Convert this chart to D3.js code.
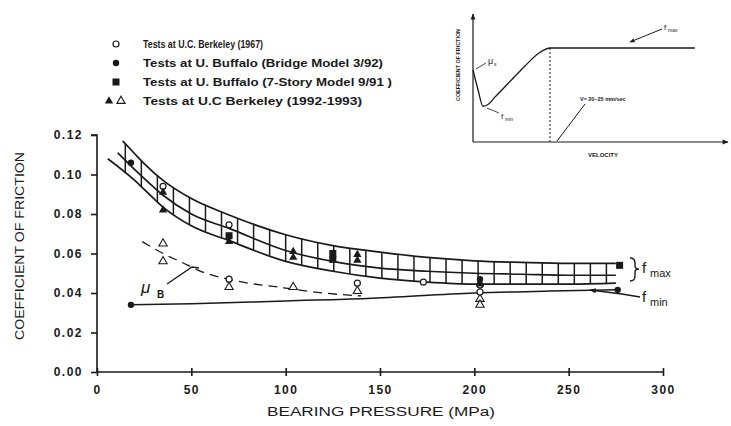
<!DOCTYPE html>
<html>
<head>
<meta charset="utf-8">
<script src="https://cdn.jsdelivr.net/npm/d3@7"></script>
<style>
  body { margin: 0; background: #fff; }
  svg { display: block; font-family: "Liberation Sans", Arial, sans-serif; }
</style>
</head>
<body>
<svg id="chart" width="731" height="426"></svg>
<script>
// ---- data ----
var xTicks = [0, 50, 100, 150, 200, 250, 300];
var yTicks = [0, 0.02, 0.04, 0.06, 0.08, 0.10, 0.12];

// f_max band: upper edge, middle line, lower edge
var upperP  = [13.6, 20, 25, 35, 50, 70, 100, 125, 150, 175, 200, 225, 250, 275];
var upperMu = [0.117, 0.1105, 0.1055, 0.097, 0.0878, 0.0795, 0.0695, 0.064, 0.0607, 0.058, 0.0563, 0.0555, 0.055, 0.055];
var midP    = [11, 20, 25, 35, 50, 70, 100, 125, 150, 175, 200, 225, 250, 275];
var midMu   = [0.111, 0.1025, 0.098, 0.0895, 0.080, 0.0727, 0.0615, 0.056, 0.0526, 0.051, 0.050, 0.0495, 0.049, 0.049];
var lowerP  = [5.7, 20, 25, 35, 50, 70, 100, 125, 150, 175, 200, 225, 250, 275];
var lowerMu = [0.108, 0.097, 0.0925, 0.0835, 0.0740, 0.0665, 0.056, 0.051, 0.0475, 0.0455, 0.0445, 0.0445, 0.0445, 0.045];

// f_min line and mu_B dashed curve
var fminP  = [18, 50, 100, 143, 200, 240, 276];
var fminMu = [0.034, 0.0345, 0.036, 0.0372, 0.040, 0.041, 0.0416];
var muBP   = [24, 35, 45, 55, 72, 100, 120, 140];
var muBMu  = [0.066, 0.060, 0.0555, 0.051, 0.0465, 0.0425, 0.040, 0.0385];

// test points [pressure, coefficient]
var berkeley67    = [[35, 0.094], [70, 0.0745], [70, 0.047], [138, 0.045], [173, 0.0455], [203, 0.044], [203, 0.0405]];
var buffaloBridge = [[18, 0.106], [18, 0.034], [276, 0.0416], [203, 0.047]];
var buffalo7      = [[70, 0.069], [125, 0.060], [125, 0.057], [277, 0.054]];
var berkeley92    = [[35, 0.091], [35, 0.082], [70, 0.066], [104, 0.061], [104, 0.058], [138, 0.0595], [138, 0.0565], [203, 0.0445]];
var berkeley92o   = [[35, 0.065], [35, 0.056], [70, 0.043], [104, 0.043], [138, 0.041], [203, 0.037], [203, 0.034]];

var legendLabels = [
  "Tests at U.C. Berkeley (1967)",
  "Tests at U. Buffalo (Bridge Model 3/92)",
  "Tests at U. Buffalo (7-Story Model 9/91 )",
  "Tests at U.C Berkeley (1992-1993)"
];

// inset schematic (velocity, friction) in relative units
var insetV  = [0, 2, 3.9, 6, 8.6, 14.5, 20.4, 26.3, 30.2, 87];
var insetMu = [0.554, 0.40, 0.275, 0.29, 0.345, 0.465, 0.585, 0.69, 0.723, 0.723];

// ---- layout ----
var svg = d3.select("svg#chart");
var ink = "#1a1a1a";

var x = d3.scaleLinear().domain([0, 300]).range([97, 663]);
var y = d3.scaleLinear().domain([0, 0.12]).range([372, 135]);

var g = svg.append("g");

// axes
var yAxis = g.append("g")
    .attr("transform", "translate(" + x(0) + ",0)")
    .call(d3.axisLeft(y).tickValues(yTicks).tickSize(6).tickPadding(8)
      .tickFormat(d3.format(".2f")));
var xAxis = g.append("g")
    .attr("transform", "translate(0," + y(0) + ")")
    .call(d3.axisBottom(x).tickValues(xTicks).tickSize(4).tickPadding(9));

[xAxis, yAxis].forEach(function(a) {
  a.select(".domain").attr("stroke", ink).attr("stroke-width", 1.6);
  a.selectAll(".tick line").attr("stroke", ink).attr("stroke-width", 1.6);
  a.selectAll(".tick text").attr("fill", ink)
      .style("font-size", "12px").style("font-weight", "bold").style("letter-spacing", "1.5px");
});
// x ticks cross the axis
xAxis.selectAll(".tick line").attr("y1", -4);
yAxis.select(".domain").attr("d", "M-6," + y(0.12) + "H0V" + y(0));
xAxis.select(".domain").attr("d", "M" + x(0) + ",0H" + x(300));

g.append("text")
    .attr("transform", "translate(24,246) rotate(-90)")
    .attr("text-anchor", "middle")
    .attr("textLength", 188).attr("lengthAdjust", "spacingAndGlyphs")
    .style("font-size", "12px").attr("fill", ink)
    .text("COEFFICIENT OF FRICTION");

g.append("text")
    .attr("x", 381).attr("y", 416)
    .attr("text-anchor", "middle")
    .attr("textLength", 228).attr("lengthAdjust", "spacingAndGlyphs")
    .style("font-size", "12px").attr("fill", ink)
    .text("BEARING PRESSURE  (MPa)");

// curves
function curve(ps, ms) {
  return d3.line().curve(d3.curveMonotoneX)
    .x(function(d) { return x(d[0]); })
    .y(function(d) { return y(d[1]); })(d3.zip(ps, ms));
}

[[upperP, upperMu], [midP, midMu], [lowerP, lowerMu]].forEach(function(c) {
  g.append("path").attr("d", curve(c[0], c[1]))
      .attr("fill", "none").attr("stroke", ink).attr("stroke-width", 1.7);
});

// hatch verticals across the band
var upAt = d3.scaleLinear().domain(upperP).range(upperMu);
var loAt = d3.scaleLinear().domain(lowerP).range(lowerMu);
g.selectAll(".hatch")
  .data(d3.range(15, 274, 8.5))
  .enter().append("line")
    .attr("class", "hatch")
    .attr("x1", function(d) { return x(d); })
    .attr("x2", function(d) { return x(d); })
    .attr("y1", function(d) { return y(upAt(d)); })
    .attr("y2", function(d) { return y(loAt(d)); })
    .attr("stroke", ink).attr("stroke-width", 1.5);

g.append("path").attr("d", curve(fminP, fminMu))
    .attr("fill", "none").attr("stroke", ink).attr("stroke-width", 1.5);

g.append("path").attr("d", curve(muBP, muBMu))
    .attr("fill", "none").attr("stroke", ink).attr("stroke-width", 1.3)
    .attr("stroke-dasharray", "9,6");

// markers
var tri = d3.symbol().type(d3.symbolTriangle).size(30);
function pts(data, draw) {
  data.forEach(function(d) { draw(g, x(d[0]), y(d[1])); });
}
function openCircle(s, cx, cy) {
  s.append("circle").attr("cx", cx).attr("cy", cy).attr("r", 3)
    .attr("fill", "#fff").attr("stroke", ink).attr("stroke-width", 1.2);
}
function filledCircle(s, cx, cy) {
  s.append("circle").attr("cx", cx).attr("cy", cy).attr("r", 3.2).attr("fill", ink);
}
function filledSquare(s, cx, cy) {
  s.append("rect").attr("x", cx - 3.5).attr("y", cy - 3.5).attr("width", 7).attr("height", 7).attr("fill", ink);
}
function filledTri(s, cx, cy) {
  s.append("path").attr("d", tri).attr("transform", "translate(" + cx + "," + cy + ")").attr("fill", ink);
}
function openTri(s, cx, cy) {
  s.append("path").attr("d", tri).attr("transform", "translate(" + cx + "," + cy + ")")
    .attr("fill", "#fff").attr("stroke", ink).attr("stroke-width", 1.1);
}
pts(berkeley92o, openTri);
pts(berkeley67, openCircle);
pts(buffaloBridge, filledCircle);
pts(buffalo7, filledSquare);
pts(berkeley92, filledTri);

// mu_B label with leader
g.append("text").attr("x", 141).attr("y", 293)
    .style("font-size", "17px").style("font-style", "italic").attr("fill", ink)
    .text("\u03bc");
g.append("text").attr("x", 157).attr("y", 298)
    .style("font-size", "10px").style("font-weight", "bold").attr("fill", ink)
    .text("B");
g.append("polyline").attr("points", "167,284 192,267 199,268")
    .attr("fill", "none").attr("stroke", ink).attr("stroke-width", 1.3);

// f_max brace and f_min arrow
g.append("path").attr("d", "M630,258 Q635,258 635,263 L635,266 Q635,269 639,269 Q635,269 635,272 L635,276 Q635,281 630,281")
    .attr("fill", "none").attr("stroke", ink).attr("stroke-width", 1.4);
g.append("text").attr("x", 642).attr("y", 273).style("font-size", "15px").attr("fill", ink).text("f");
g.append("text").attr("x", 650).attr("y", 277).style("font-size", "11px").attr("fill", ink).text("max");
g.append("text").attr("x", 642).attr("y", 302).style("font-size", "15px").attr("fill", ink).text("f");
g.append("text").attr("x", 650).attr("y", 306).style("font-size", "11px").attr("fill", ink).text("min");

svg.append("defs").append("marker")
    .attr("id", "ah").attr("viewBox", "0 0 10 10").attr("refX", 9).attr("refY", 5)
    .attr("markerWidth", 6).attr("markerHeight", 5).attr("orient", "auto")
  .append("path").attr("d", "M0,1L10,5L0,9z").attr("fill", ink);

g.append("polyline").attr("points", "640,297 622,294 590,290")
    .attr("fill", "none").attr("stroke", ink).attr("stroke-width", 1.3)
    .attr("marker-end", "url(#ah)");

// legend
var legend = g.append("g");
var legendDraw = [openCircle, filledCircle, filledSquare, filledTri];
var legendWidths = [120, 240, 249, 219];
legendLabels.forEach(function(t, i) {
  var ly = 44 + i * 19;
  legendDraw[i](legend, i === 3 ? 109 : 116, ly);
  if (i === 3) openTri(legend, 121, ly);
  legend.append("text").attr("x", 143).attr("y", ly + 4)
      .attr("textLength", legendWidths[i]).attr("lengthAdjust", "spacingAndGlyphs")
      .style("font-size", "11px").style("font-weight", "bold").attr("fill", ink)
      .text(t);
});

// inset
var ix = d3.scaleLinear().domain([0, 100]).range([473, 728]);
var iy = d3.scaleLinear().domain([0, 1]).range([142, 12]);
var inset = svg.append("g");
inset.append("line").attr("x1", ix(0)).attr("x2", ix(0)).attr("y1", iy(0)).attr("y2", iy(1) + 2)
    .attr("stroke", ink).attr("stroke-width", 1.2).attr("marker-end", "url(#ah)");
inset.append("line").attr("x1", ix(0)).attr("x2", ix(100)).attr("y1", iy(0)).attr("y2", iy(0))
    .attr("stroke", ink).attr("stroke-width", 1.2).attr("marker-end", "url(#ah)");
inset.append("path")
    .attr("d", d3.line().curve(d3.curveMonotoneX)
      .x(function(d) { return ix(d[0]); }).y(function(d) { return iy(d[1]); })(d3.zip(insetV, insetMu)))
    .attr("fill", "none").attr("stroke", ink).attr("stroke-width", 1.3);
inset.append("line").attr("x1", ix(30.2)).attr("x2", ix(30.2)).attr("y1", iy(0.723)).attr("y2", iy(0))
    .attr("stroke", ink).attr("stroke-width", 1).attr("stroke-dasharray", "2,2");
inset.append("text").attr("transform", "translate(460,65) rotate(-90)").attr("text-anchor", "middle")
    .attr("textLength", 72).attr("lengthAdjust", "spacingAndGlyphs")
    .style("font-size", "5px").style("font-weight", "bold").attr("fill", ink)
    .text("COEFFICIENT OF FRICTION");
inset.append("text").attr("x", 603).attr("y", 157).attr("text-anchor", "middle")
    .style("font-size", "6px").style("font-weight", "bold").attr("fill", ink).text("VELOCITY");
inset.append("line").attr("x1", 476).attr("y1", 69).attr("x2", 486).attr("y2", 63)
    .attr("stroke", ink).attr("stroke-width", 0.8);
inset.append("text").attr("x", 488).attr("y", 64).style("font-size", "9px").attr("fill", ink).text("\u03bc");
inset.append("text").attr("x", 494).attr("y", 66).style("font-size", "5px").attr("fill", ink).text("s");
inset.append("line").attr("x1", 499).attr("y1", 113).attr("x2", 487).attr("y2", 108)
    .attr("stroke", ink).attr("stroke-width", 0.8);
inset.append("text").attr("x", 501).attr("y", 119).style("font-size", "8px").attr("fill", ink).text("f");
inset.append("text").attr("x", 505).attr("y", 121).style("font-size", "5px").attr("fill", ink).text("min");
inset.append("line").attr("x1", 557).attr("y1", 141).attr("x2", 585).attr("y2", 104)
    .attr("stroke", ink).attr("stroke-width", 1);
inset.append("text").attr("x", 580).attr("y", 101).style("font-size", "5.5px").style("font-weight", "bold")
    .attr("fill", ink).text("V\u2248 20~25 mm/sec");
inset.append("line").attr("x1", 662).attr("y1", 29).attr("x2", 630).attr("y2", 42)
    .attr("stroke", ink).attr("stroke-width", 1).attr("marker-end", "url(#ah)");
inset.append("text").attr("x", 664).attr("y", 30).style("font-size", "8px").attr("fill", ink).text("f");
inset.append("text").attr("x", 668).attr("y", 32).style("font-size", "5px").attr("fill", ink).text("max");
</script>
</body>
</html>
